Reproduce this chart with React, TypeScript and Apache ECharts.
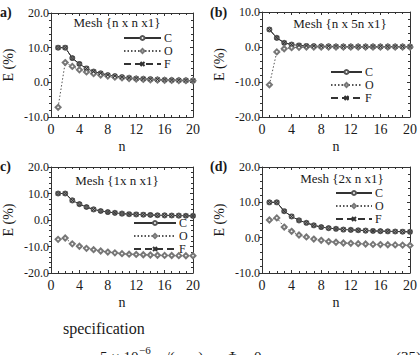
import React, { useEffect, useRef } from "react";
import * as echarts from "echarts";

// mesh refinement index
const nValues = [1, 2, 3, 4, 5, 6, 7, 8, 9, 10, 11, 12, 13, 14, 15, 16, 17, 18, 19, 20];

// panel (a) Mesh {n x n x1}
const aC = [10, 10, 7.0, 5.3, 4.0, 3.1, 2.6, 2.1, 1.8, 1.5, 1.3, 1.1, 1.0, 0.9, 0.8, 0.7, 0.65, 0.6, 0.55, 0.5];
const aO = [-7.2, 5.7, 4.6, 3.6, 3.0, 2.5, 2.1, 1.8, 1.5, 1.3, 1.1, 0.95, 0.85, 0.75, 0.68, 0.6, 0.55, 0.5, 0.47, 0.44];
const aF = [10, 10, 7.0, 5.3, 4.0, 3.1, 2.6, 2.1, 1.8, 1.5, 1.3, 1.1, 1.0, 0.9, 0.8, 0.7, 0.65, 0.6, 0.55, 0.5];

// panel (b) Mesh {n x 5n x1}
const bC = [5.0, 2.6, 1.2, 0.7, 0.45, 0.3, 0.25, 0.2, 0.18, 0.15, 0.13, 0.12, 0.1, 0.1, 0.1, 0.1, 0.1, 0.1, 0.1, 0.1];
const bO = [-10.8, -1.4, -0.5, -0.2, -0.1, 0, 0, 0, 0, 0, 0, 0, 0, 0, 0, 0, 0, 0, 0, 0];
const bF = [5.0, 2.6, 1.2, 0.7, 0.45, 0.3, 0.25, 0.2, 0.18, 0.15, 0.13, 0.12, 0.1, 0.1, 0.1, 0.1, 0.1, 0.1, 0.1, 0.1];

// panel (c) Mesh {1x n x1}
const cC = [10, 10, 7.4, 6.0, 4.9, 4.0, 3.4, 3.0, 2.7, 2.4, 2.2, 2.1, 2.0, 1.9, 1.8, 1.75, 1.7, 1.65, 1.6, 1.55];
const cO = [-7.3, -6.8, -9.0, -9.9, -10.7, -11.2, -11.7, -12.1, -12.4, -12.7, -12.9, -13.0, -13.1, -13.2, -13.3, -13.35, -13.4, -13.45, -13.5, -13.5];
const cF = [10, 10, 7.4, 6.0, 4.9, 4.0, 3.4, 3.0, 2.7, 2.4, 2.2, 2.1, 2.0, 1.9, 1.8, 1.75, 1.7, 1.65, 1.6, 1.55];

// panel (d) Mesh {2x n x1}
const dC = [10, 10, 7.5, 6.0, 4.9, 4.2, 3.5, 3.0, 2.7, 2.5, 2.3, 2.2, 2.1, 2.0, 1.9, 1.85, 1.8, 1.75, 1.7, 1.65];
const dO = [5.0, 5.6, 3.0, 1.8, 0.75, 0.2, -0.4, -0.75, -1.1, -1.3, -1.5, -1.6, -1.7, -1.8, -1.9, -1.95, -2.0, -2.05, -2.1, -2.2];
const dF = [10, 10, 7.5, 6.0, 4.9, 4.2, 3.5, 3.0, 2.7, 2.5, 2.3, 2.2, 2.1, 2.0, 1.9, 1.85, 1.8, 1.75, 1.7, 1.65];

const xTicks = [0, 4, 8, 12, 16, 20];
const seriesNames = ["C", "O", "F"];
const titles = ["Mesh {n x n x1}", "Mesh {n x 5n x1}", "Mesh {1x n x1}", "Mesh {2x n x1}"];
const panelTags = ["a)", "(b)", "c)", "(d)"];
const yRanges: [number, number][] = [
  [-10, 20],
  [-20, 10],
  [-20, 20],
  [-10, 20],
];

const FONT = "Liberation Serif";
const INK = "#1a1a1a";
const LINE = "#333";

const crossPath = "path://M0,0L10,10M10,0L0,10";

type Panel = {
  grid: { left: number; top: number; width: number; height: number };
  C: number[];
  O: number[];
  F: number[];
  legend: { left: number; top: number; itemWidth: number };
  titleX: number;
  titleY: number;
};

const panels: Panel[] = [
  { grid: { left: 43, top: 13, width: 150, height: 104 }, C: aC, O: aO, F: aF, legend: { left: 123, top: 32, itemWidth: 37 }, titleX: 117, titleY: 16 },
  { grid: { left: 262, top: 12, width: 150, height: 105 }, C: bC, O: bO, F: bF, legend: { left: 330, top: 66, itemWidth: 31 }, titleX: 340, titleY: 17 },
  { grid: { left: 43, top: 167, width: 150, height: 106 }, C: cC, O: cO, F: cF, legend: { left: 133, top: 217, itemWidth: 42 }, titleX: 117, titleY: 174 },
  { grid: { left: 262, top: 167, width: 151, height: 106 }, C: dC, O: dO, F: dF, legend: { left: 335, top: 187, itemWidth: 36 }, titleX: 342, titleY: 172 },
];

const pairs = (vals: number[]) => vals.map((v, i) => [nValues[i], v]);

export default function App() {
  const ref = useRef<HTMLDivElement>(null);

  useEffect(() => {
    if (!ref.current) return;
    const chart = echarts.init(ref.current, undefined, { renderer: "svg" });

    const grids: any[] = [];
    const xAxes: any[] = [];
    const yAxes: any[] = [];
    const series: any[] = [];
    const legends: any[] = [];
    const titleList: any[] = [];

    panels.forEach((p, i) => {
      grids.push({ ...p.grid, containLabel: false });
      const [yMin, yMax] = yRanges[i];

      const xBase = {
        type: "value",
        gridIndex: i,
        min: 0,
        max: 20,
        interval: 4,
        splitLine: { show: false },
        axisLine: { show: true, onZero: false, lineStyle: { color: LINE, width: 1 } },
        axisTick: { show: true, inside: true, length: 3, lineStyle: { color: LINE } },
        minorTick: { show: true, splitNumber: 4, length: 2, lineStyle: { color: LINE } },
      };
      xAxes.push({
        ...xBase,
        position: "bottom",
        name: "n",
        nameLocation: "middle",
        nameGap: 22,
        nameTextStyle: { fontFamily: FONT, fontSize: 14, color: INK },
        axisLabel: {
          fontFamily: FONT,
          fontSize: 14,
          color: INK,
          margin: 5,
          formatter: (v: number) => (xTicks.includes(v) ? String(v) : ""),
        },
      });
      xAxes.push({ ...xBase, position: "top", axisLabel: { show: false } });

      const yBase = {
        type: "value",
        gridIndex: i,
        min: yMin,
        max: yMax,
        interval: 10,
        splitLine: { show: false },
        axisLine: { show: true, onZero: false, lineStyle: { color: LINE, width: 1 } },
        minorTick: { show: true, splitNumber: 5, length: 2, lineStyle: { color: LINE } },
      };
      yAxes.push({
        ...yBase,
        position: "left",
        name: "E (%)",
        nameLocation: "middle",
        nameGap: 36,
        nameTextStyle: { fontFamily: FONT, fontSize: 14, color: INK },
        axisTick: { show: true, inside: false, length: 3, lineStyle: { color: LINE } },
        axisLabel: {
          fontFamily: FONT,
          fontSize: 12,
          color: INK,
          margin: 2,
          formatter: (v: number) => v.toFixed(1),
        },
      });
      yAxes.push({
        ...yBase,
        position: "right",
        axisTick: { show: true, inside: true, length: 3, lineStyle: { color: LINE } },
        axisLabel: { show: false },
      });

      const xi = i * 2;
      const yi = i * 2;
      series.push({
        name: seriesNames[0],
        type: "line",
        xAxisIndex: xi,
        yAxisIndex: yi,
        data: pairs(p.C),
        symbol: "emptyCircle",
        symbolSize: 4,
        lineStyle: { color: LINE, width: 1, type: "solid" },
        itemStyle: { color: "#555", borderColor: "#444", borderWidth: 1 },
      });
      series.push({
        name: seriesNames[1],
        type: "line",
        xAxisIndex: xi,
        yAxisIndex: yi,
        data: pairs(p.O),
        symbol: "emptyDiamond",
        symbolSize: 5,
        lineStyle: { color: "#555", width: 1, type: [1.5, 2] },
        itemStyle: { color: "#777", borderColor: "#666", borderWidth: 1 },
      });
      series.push({
        name: seriesNames[2],
        type: "line",
        xAxisIndex: xi,
        yAxisIndex: yi,
        data: pairs(p.F),
        symbol: crossPath,
        symbolSize: 4,
        lineStyle: { color: LINE, width: 1, type: [7, 4] },
        itemStyle: { color: "#333", borderColor: "#333", borderWidth: 1 },
      });

      legends.push({
        orient: "vertical",
        left: p.legend.left,
        top: p.legend.top,
        itemWidth: p.legend.itemWidth,
        itemHeight: 5,
        itemGap: 1,
        padding: 0,
        data: seriesNames,
        selectedMode: false,
        textStyle: { fontFamily: FONT, fontSize: 12, color: INK, padding: [0, 0, 0, -2], lineHeight: 12 },
      });

      titleList.push({
        text: titles[i],
        left: p.titleX,
        top: p.titleY,
        textAlign: "center",
        padding: 0,
        textStyle: { fontFamily: FONT, fontSize: 13, fontWeight: "normal", color: INK },
      });
    });

    const tagPositions = [
      { x: 0, y: 5 },
      { x: 210, y: 5 },
      { x: 0, y: 159 },
      { x: 210, y: 159 },
    ];

    const graphic: any[] = panelTags.map((t, i) => ({
      type: "text",
      x: tagPositions[i].x,
      y: tagPositions[i].y,
      style: { text: t, font: `bold 14px ${FONT}`, fill: INK },
    }));

    graphic.push({
      type: "text",
      x: 63,
      y: 320,
      style: { text: "specification", font: `16px ${FONT}`, fill: INK },
    });
    // formula line running off the bottom edge
    graphic.push({ type: "text", x: 100, y: 349, style: { text: "5 × 10", font: `15px ${FONT}`, fill: INK } });
    graphic.push({ type: "text", x: 139, y: 344, style: { text: "−6", font: `11px ${FONT}`, fill: INK } });
    graphic.push({ type: "text", x: 154, y: 349, style: { text: "m/(mm)", font: `15px ${FONT}`, fill: INK } });
    graphic.push({ type: "text", x: 227, y: 349, style: { text: "Φ = 0", font: `15px ${FONT}`, fill: INK } });
    graphic.push({ type: "text", x: 396, y: 349, style: { text: "(35)", font: `15px ${FONT}`, fill: INK } });

    chart.setOption({
      animation: false,
      backgroundColor: "#fff",
      title: titleList,
      grid: grids,
      xAxis: xAxes,
      yAxis: yAxes,
      legend: legends,
      series,
      graphic,
    });

    return () => chart.dispose();
  }, []);

  return (
    <div
      ref={ref}
      style={{ position: "fixed", left: 0, top: 0, width: 420, height: 355, background: "#fff" }}
    />
  );
}
